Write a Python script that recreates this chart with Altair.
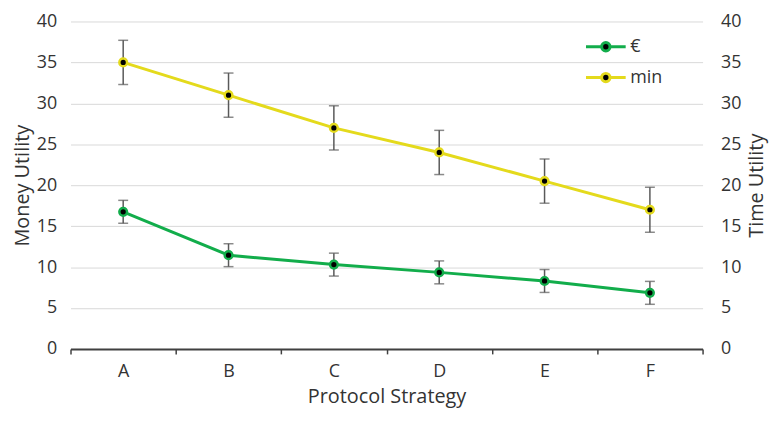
import altair as alt
import pandas as pd

categories = ["A", "B", "C", "D", "E", "F"]
money = [16.75, 11.45, 10.3, 9.35, 8.3, 6.85]
money_err = [1.4, 1.4, 1.4, 1.4, 1.4, 1.4]
time_vals = [35.0, 31.0, 27.0, 24.0, 20.5, 17.0]
time_err = [2.7, 2.7, 2.7, 2.7, 2.7, 2.75]
series_names = ["€", "min"]
series_colors = ["#12ad4b", "#e4da1c"]
y_ticks = [0, 5, 10, 15, 20, 25, 30, 35, 40]

FONT = "Open Sans"
TXT = "#333333"


def make_df(vals, errs, name):
    return pd.DataFrame({
        "cat": categories,
        "series": name,
        "value": vals,
        "lo": [v - e for v, e in zip(vals, errs)],
        "hi": [v + e for v, e in zip(vals, errs)],
    })


money_df = make_df(money, money_err, series_names[0])
time_df = make_df(time_vals, time_err, series_names[1])

x_enc = alt.X(
    "cat:N",
    sort=categories,
    scale=alt.Scale(type="band", paddingInner=0, paddingOuter=0),
    axis=alt.Axis(
        title="Protocol Strategy",
        labelAngle=0,
        tickBand="extent",
        domainColor="#404040",
        domainWidth=2,
        tickColor="#404040",
        tickWidth=1.5,
        tickSize=5,
        labelPadding=9,
        titlePadding=6,
        grid=False,
    ),
)

legend_path = ("M-2,0L-0.42,0M0.42,0L2,0"
               "M0.42,0A0.42,0.42,0,1,1,-0.42,0A0.42,0.42,0,1,1,0.42,0Z")


def group(df, axis, show_legend):
    y_scale = alt.Scale(domain=[0, 40], nice=False)
    base = alt.Chart(df)
    color_kwargs = dict(
        scale=alt.Scale(domain=series_names, range=series_colors),
    )
    if show_legend:
        color_kwargs["legend"] = alt.Legend(
            title=None,
            orient="none",
            legendX=528,
            legendY=14,
            symbolType=legend_path,
            symbolSize=400,
            symbolFillColor="black",
            symbolStrokeWidth=3,
            labelOffset=13,
            rowPadding=9,
            labelFontSize=18,
            labelFont=FONT,
            labelColor=TXT,
            padding=0,
        )
    else:
        color_kwargs["legend"] = None
    rule = base.mark_rule(color="#595959", strokeWidth=1.5).encode(
        x=x_enc, y=alt.Y("lo:Q", scale=y_scale, axis=axis), y2="hi:Q"
    )
    tlo = base.mark_tick(color="#595959", thickness=1.5, size=10).encode(
        x=x_enc, y=alt.Y("lo:Q", scale=y_scale, axis=axis)
    )
    thi = base.mark_tick(color="#595959", thickness=1.5, size=10).encode(
        x=x_enc, y=alt.Y("hi:Q", scale=y_scale, axis=axis)
    )
    line = base.mark_line(strokeWidth=3).encode(
        x=x_enc,
        y=alt.Y("value:Q", scale=y_scale, axis=axis),
        color=alt.Color("series:N", **color_kwargs),
    )
    pts = base.mark_point(filled=False, fill="black", fillOpacity=1,
                          strokeWidth=2.5, size=60, opacity=1).encode(
        x=x_enc,
        y=alt.Y("value:Q", scale=y_scale, axis=axis),
        stroke=alt.Stroke("series:N",
                          scale=alt.Scale(domain=series_names, range=series_colors),
                          legend=None),
    )
    return alt.layer(rule, tlo, thi, line, pts)


left_axis = alt.Axis(
    title="Money Utility",
    orient="left",
    values=y_ticks,
    grid=True,
    gridColor="#d9d9d9",
    gridWidth=1,
    domain=False,
    ticks=False,
    labelPadding=14,
    titlePadding=4,
)
right_axis = alt.Axis(
    title="Time Utility",
    orient="right",
    values=y_ticks,
    grid=False,
    domain=False,
    ticks=False,
    labelPadding=18,
    titlePadding=6,
    titleAngle=270,
    titleBaseline="top",
)

chart = alt.layer(
    group(money_df, left_axis, True),
    group(time_df, right_axis, False),
).resolve_scale(y="independent").properties(
    width=637,
    height=330,
    autosize=alt.AutoSizeParams(type="none"),
    padding={"left": 63, "top": 12, "right": 74, "bottom": 63},
).configure_view(
    stroke=None
).configure_axis(
    labelFont=FONT,
    titleFont=FONT,
    labelFontSize=18,
    titleFontSize=20,
    titleFontWeight="normal",
    labelColor=TXT,
    titleColor=TXT,
)

chart.save("out.html", embed_options={"renderer": "svg", "actions": False})
